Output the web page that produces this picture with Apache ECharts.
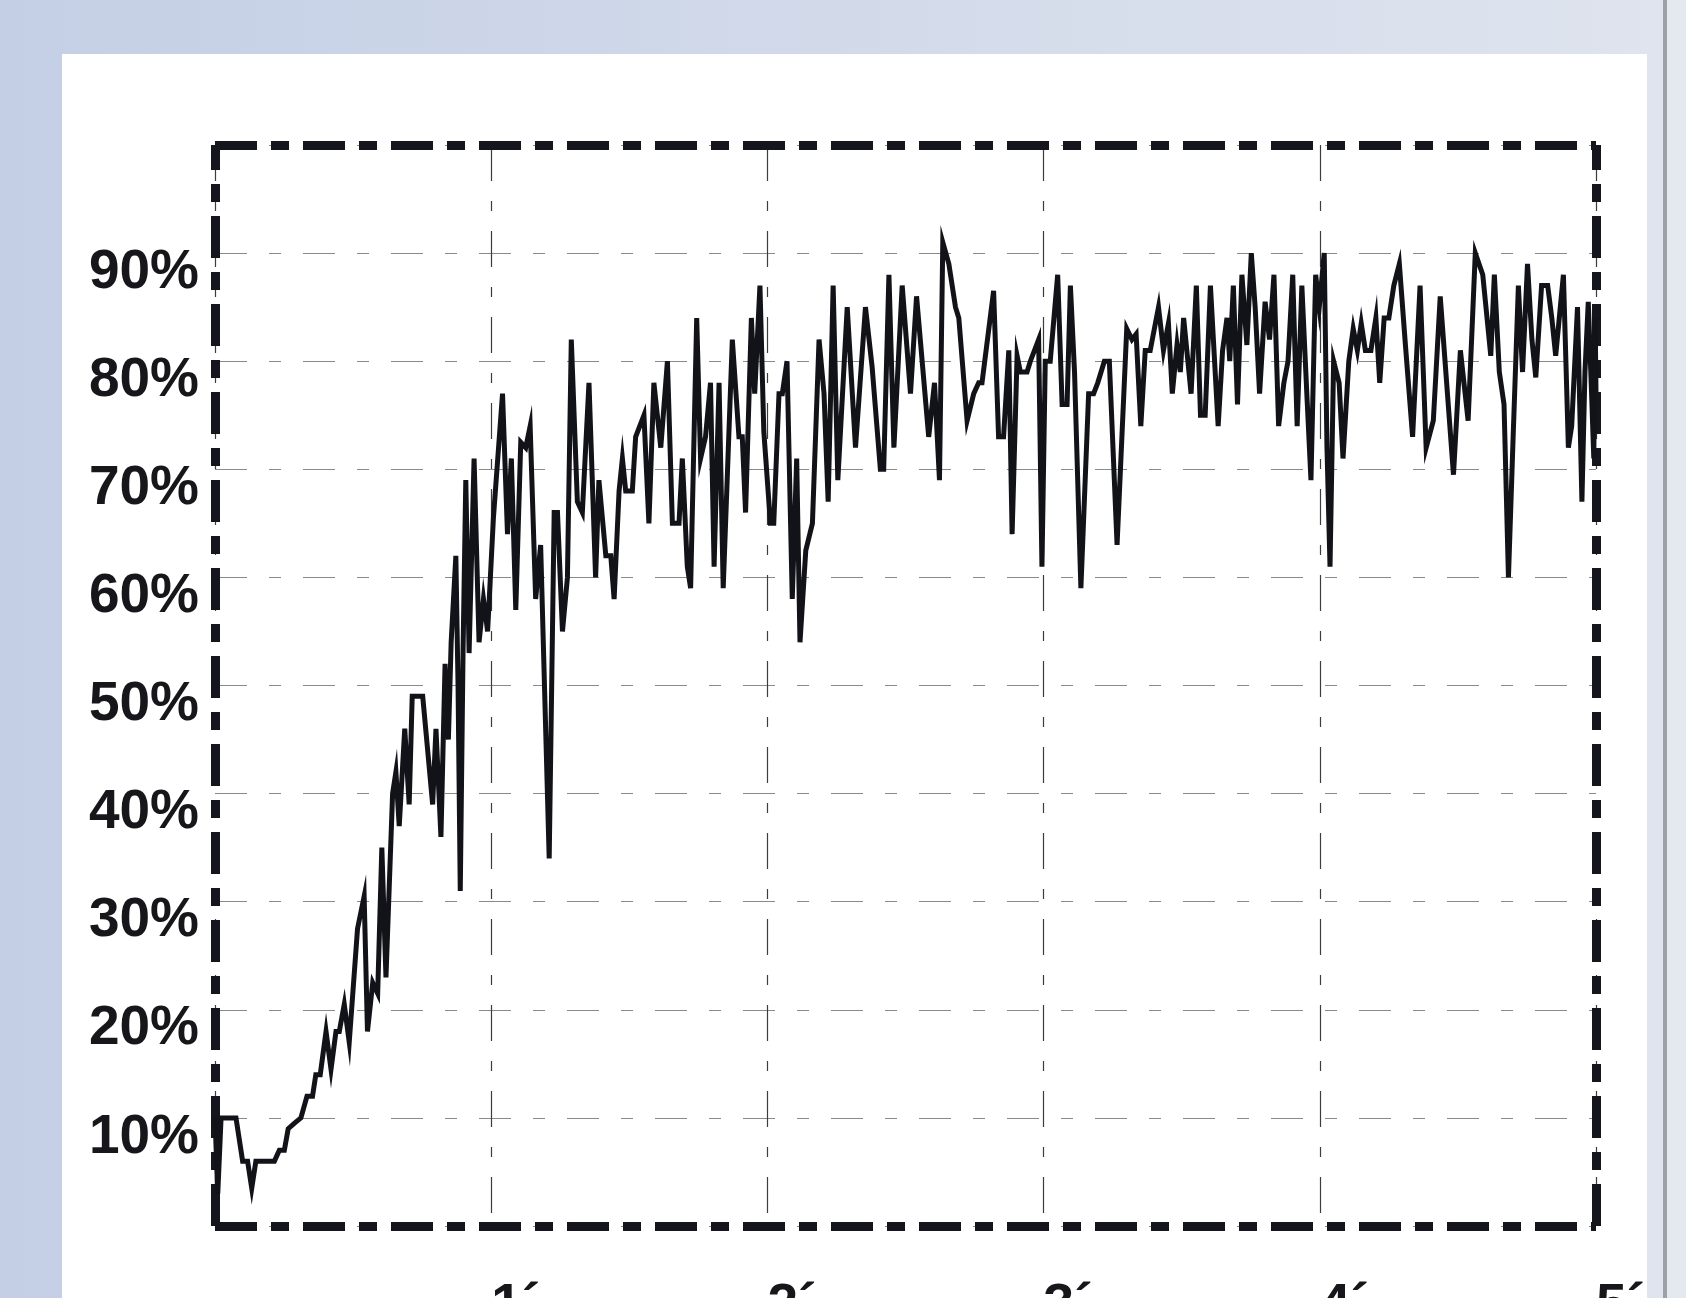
<!DOCTYPE html>
<html>
<head>
<meta charset="utf-8">
<title>hit rate over time</title>
<script src="https://cdn.jsdelivr.net/npm/echarts@6/dist/echarts.min.js"></script>
<style>
  html, body { margin: 0; padding: 0; }
  #ec { width: 1686px; height: 1298px; }
</style>
</head>
<body>
<div id="ec"></div>
<script>
// sample time, in minutes
var minutes = [
  0.000, 0.010, 0.022, 0.076, 0.100, 0.118, 0.133, 0.148, 0.215, 0.233,
  0.251, 0.265, 0.287, 0.311, 0.333, 0.353, 0.365, 0.381, 0.402, 0.420,
  0.438, 0.450, 0.468, 0.486, 0.516, 0.540, 0.552, 0.571, 0.589, 0.604,
  0.619, 0.643, 0.655, 0.667, 0.687, 0.703, 0.714, 0.752, 0.788, 0.800,
  0.818, 0.833, 0.845, 0.855, 0.872, 0.880, 0.888, 0.898, 0.908, 0.920,
  0.938, 0.956, 0.972, 0.987, 1.008, 1.041, 1.059, 1.073, 1.089, 1.107,
  1.125, 1.141, 1.161, 1.179, 1.210, 1.228, 1.240, 1.258, 1.276, 1.290,
  1.312, 1.330, 1.354, 1.378, 1.390, 1.415, 1.433, 1.445, 1.463, 1.475,
  1.487, 1.511, 1.523, 1.553, 1.571, 1.589, 1.614, 1.638, 1.656, 1.680,
  1.692, 1.710, 1.722, 1.744, 1.758, 1.776, 1.794, 1.807, 1.825, 1.840,
  1.873, 1.897, 1.909, 1.921, 1.942, 1.954, 1.973, 1.987, 2.011, 2.023,
  2.042, 2.054, 2.071, 2.090, 2.106, 2.118, 2.139, 2.163, 2.187, 2.205,
  2.220, 2.238, 2.255, 2.289, 2.319, 2.355, 2.379, 2.409, 2.421, 2.440,
  2.458, 2.488, 2.518, 2.540, 2.584, 2.605, 2.623, 2.635, 2.657, 2.681,
  2.693, 2.723, 2.747, 2.765, 2.777, 2.819, 2.837, 2.855, 2.874, 2.886,
  2.904, 2.916, 2.940, 2.952, 2.982, 2.994, 3.006, 3.024, 3.051, 3.067,
  3.085, 3.097, 3.112, 3.135, 3.163, 3.181, 3.196, 3.220, 3.238, 3.266,
  3.301, 3.320, 3.335, 3.352, 3.368, 3.386, 3.416, 3.434, 3.452, 3.466,
  3.483, 3.495, 3.507, 3.534, 3.553, 3.568, 3.585, 3.604, 3.632, 3.648,
  3.664, 3.674, 3.687, 3.702, 3.718, 3.736, 3.752, 3.766, 3.782, 3.802,
  3.818, 3.834, 3.851, 3.870, 3.885, 3.902, 3.918, 3.935, 3.953, 3.968,
  3.985, 3.998, 4.016, 4.026, 4.037, 4.050, 4.070, 4.084, 4.105, 4.121,
  4.136, 4.150, 4.165, 4.185, 4.203, 4.217, 4.233, 4.250, 4.268, 4.288,
  4.310, 4.336, 4.363, 4.385, 4.411, 4.436, 4.484, 4.509, 4.537, 4.563,
  4.590, 4.619, 4.632, 4.650, 4.667, 4.683, 4.700, 4.719, 4.734, 4.752,
  4.768, 4.782, 4.803, 4.825, 4.840, 4.854, 4.882, 4.900, 4.912, 4.933,
  4.949, 4.960, 4.972, 4.984, 4.992, 4.997, 5.000
];
// rate in percent, one per sample above
var hitRate = [
  10, 3, 10, 10, 6, 6, 3.5, 6, 6, 7,
  7, 9, 9.5, 10, 12, 12, 14, 14, 18, 14.5,
  18, 18, 20.5, 17, 27.5, 30.5, 18, 22.5, 21.5, 35,
  23, 40, 42, 37, 46, 39, 49, 49, 39, 46,
  36, 52, 45, 54, 62, 50, 31, 53, 69, 53,
  71, 54, 58, 55, 65.5, 77, 64, 71, 57, 72.5,
  72, 74, 58, 63, 34, 66, 66, 55, 60, 82,
  67, 66, 78, 60, 69, 62, 62, 58, 68, 71,
  68, 68, 73, 75, 65, 78, 72, 80, 65, 65,
  71, 61, 59, 84, 71, 73, 78, 61, 78, 59,
  82, 73, 73, 66, 84, 77, 87, 73.5, 65, 65,
  77, 77, 80, 58, 71, 54, 62.5, 65, 82, 77,
  67, 87, 69, 85, 72, 85, 79.5, 70, 70, 88,
  72, 87, 77, 86, 73, 78, 69, 91, 89, 85,
  84, 74.5, 77, 78, 78, 86.5, 73, 73, 81, 64,
  80.5, 79, 79, 80, 82, 61, 80, 80, 88, 76,
  76, 87, 79, 59, 77, 77, 78, 80, 80, 63,
  83, 82, 82.5, 74, 81, 81, 85, 81, 83.5, 77,
  81.5, 79, 84, 77, 87, 75, 75, 87, 74, 81,
  84, 80, 87, 76, 88, 81.5, 90, 85, 77, 85.5,
  82, 88, 74, 78, 80, 88, 74, 87, 77, 69,
  88, 85, 90, 72, 61, 80, 78, 71, 80, 83,
  81, 83.5, 81, 81, 84, 78, 84, 84, 87, 89,
  81.5, 73, 87, 72, 74.5, 86, 69.5, 81, 74.5, 90,
  88, 80.5, 88, 79, 76, 60, 73, 87, 79, 89,
  82, 78.5, 87, 87, 84, 80.5, 88, 72, 74, 85,
  67, 79, 85.5, 77, 71, 84, 77
];
var xTickLabels = ['', '1´', '2´', '3´', '4´', '5´'];
var yTickLabels = ['', '10%', '20%', '30%', '40%', '50%', '60%', '70%', '80%', '90%', ''];

var points = minutes.map(function (t, i) { return [t, hitRate[i]]; });

var frameLine = { color: '#15151d', width: 9, type: [42, 14, 18, 14], cap: 'butt' };
var labelFont = { fontSize: 55, fontWeight: 'bold', fontFamily: 'Liberation Sans', color: '#16161b' };

var myChart = echarts.init(document.getElementById('ec'));
myChart.setOption({
  animation: false,
  graphic: [
    {
      type: 'rect', z: -10, silent: true,
      shape: { x: 0, y: 0, width: 1686, height: 1298 },
      style: {
        fill: new echarts.graphic.LinearGradient(0, 0, 1, 0, [
          { offset: 0, color: '#c4cfe5' },
          { offset: 0.5, color: '#d2daea' },
          { offset: 1, color: '#dfe4ee' }
        ])
      }
    },
    {
      type: 'rect', z: -9, silent: true,
      shape: { x: 62, y: 54, width: 1585, height: 1244 },
      style: { fill: '#ffffff' }
    },
    {
      type: 'rect', z: -9, silent: true,
      shape: { x: 1663, y: 0, width: 4, height: 1298 },
      style: { fill: '#9ca1a8' }
    },
    {
      type: 'rect', z: -9, silent: true,
      shape: { x: 1667, y: 0, width: 19, height: 1298 },
      style: { fill: '#e4e8ef' }
    }
  ],
  grid: {
    left: 215, right: 90, top: 145, bottom: 72,
    containLabel: false, outerBoundsMode: 'none'
  },
  xAxis: [
    {
      type: 'value', min: 0, max: 5, interval: 1, position: 'bottom',
      axisLine: { show: true, onZero: false, lineStyle: frameLine },
      axisTick: { show: false },
      splitLine: { show: true, lineStyle: { color: '#3c3c3c', width: 1.2, type: [36, 20, 10, 20] } },
      axisLabel: Object.assign({
        formatter: function (v) { return xTickLabels[Math.round(v)]; },
        align: 'left', verticalAlign: 'top', margin: 53
      }, labelFont)
    },
    {
      type: 'value', min: 0, max: 5, interval: 1, position: 'top',
      axisLine: { show: true, onZero: false, lineStyle: frameLine },
      axisTick: { show: false }, axisLabel: { show: false }, splitLine: { show: false }
    }
  ],
  yAxis: [
    {
      type: 'value', min: 0, max: 100, interval: 10, position: 'left',
      axisLine: { show: true, onZero: false, lineStyle: frameLine },
      axisTick: { show: false },
      splitLine: { show: true, lineStyle: { color: '#8a8a8a', width: 1.2, type: [32, 22, 12, 22] } },
      axisLabel: {
        formatter: function (v) {
          var s = yTickLabels[Math.round(v / 10)];
          return s ? '{v|' + s + '}' : '';
        },
        margin: 16,
        rich: { v: Object.assign({ padding: [39, 0, 0, 0] }, labelFont) }
      }
    },
    {
      type: 'value', min: 0, max: 100, interval: 10, position: 'right',
      axisLine: { show: true, onZero: false, lineStyle: frameLine },
      axisTick: { show: false }, axisLabel: { show: false }, splitLine: { show: false }
    }
  ],
  series: [
    {
      name: 'rate',
      type: 'line',
      xAxisIndex: 0,
      yAxisIndex: 0,
      data: points,
      symbol: 'none',
      lineStyle: { color: '#121219', width: 5, join: 'miter' }
    }
  ]
});
</script>
</body>
</html>
